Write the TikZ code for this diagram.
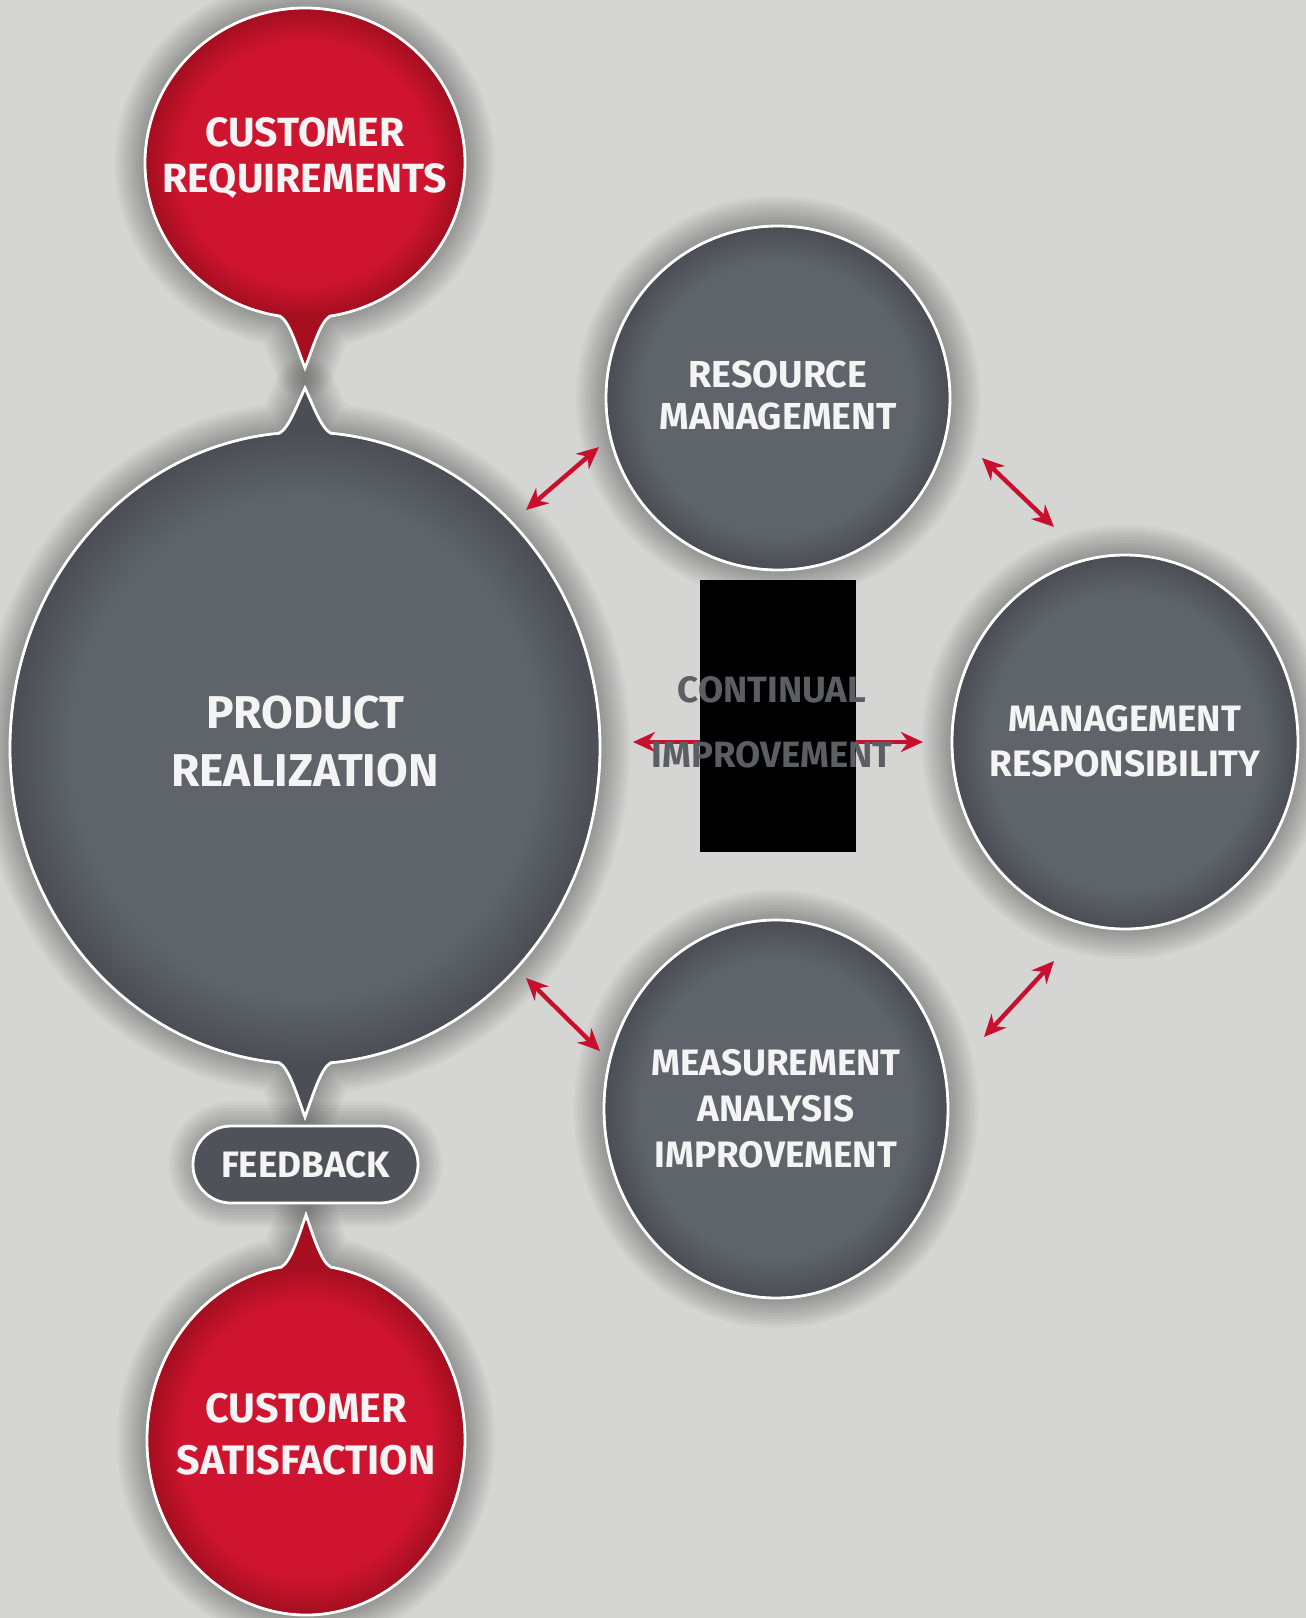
\documentclass[tikz,border=0pt]{standalone}
\usepackage{fontspec}
\setmainfont{Fira Sans}
\usetikzlibrary{arrows.meta}
\definecolor{bg}{HTML}{D5D5D3}
\definecolor{redin}{HTML}{CE142E}
\definecolor{redout}{HTML}{A50F20}
\definecolor{grin}{HTML}{5F646A}
\definecolor{grout}{HTML}{4B4F55}
\definecolor{arr}{HTML}{C8102E}
\definecolor{citext}{HTML}{5B5E63}
\definecolor{wtext}{HTML}{F4F4F4}
\pgfdeclareradialshading{redball}{\pgfpoint{0bp}{0bp}}{color(0bp)=(redin); color(20bp)=(redin); color(25bp)=(redout); color(50bp)=(redout)}
\pgfdeclareradialshading{grayball}{\pgfpoint{0bp}{0bp}}{color(0bp)=(grin); color(20bp)=(grin); color(25bp)=(grout); color(50bp)=(grout)}
\newcommand\halopath[1]{\foreach \w in {3,6,...,30}{\draw[black,opacity=0.03,line width=\w pt,line join=round] #1;}}
\tikzset{
  outline/.style={draw=white, line width=1.4pt},
  lbl/.style={text=wtext, align=center},
  twoway/.style={arr, line width=2.2pt, {Stealth[length=11pt,width=10pt]}-{Stealth[length=11pt,width=10pt]}},
}
\begin{document}
\begin{tikzpicture}[x=0.5pt, y=-0.5pt]
\useasboundingbox (0,0) rectangle (1306,1618);
\fill[bg] (0,0) rectangle (1306,1618);

% paths
\def\crpath{(279.97,316.09) arc[start angle=99, end angle=441, x radius=160, y radius=155]
  .. controls (320,322) and (313,348) .. (305,368) .. controls (297,348) and (290,322) .. (279.97,316.09) -- cycle}
\def\prpath{(279.29,1062.8) arc[start angle=95, end angle=265, x radius=295, y radius=316]
  .. controls (289,428) and (297,405) .. (305,388) .. controls (313,405) and (321,428) .. (330.71,433.2)
  arc[start angle=275, end angle=445, x radius=295, y radius=316]
  .. controls (321,1068) and (313,1095) .. (305,1117) .. controls (297,1095) and (289,1068) .. (279.29,1062.8) -- cycle}
\def\cspath{(330.87,1267.15) arc[start angle=279, end angle=621, x radius=159, y radius=175]
  .. controls (291,1262) and (299,1235) .. (306,1215) .. controls (313,1235) and (321,1262) .. (330.87,1267.15) -- cycle}
\def\rmpath{(778,398) ellipse[x radius=172, y radius=172]}
\def\mrpath{(1125,742) ellipse[x radius=173, y radius=187]}
\def\mapath{(776,1109) ellipse[x radius=172, y radius=189]}

% halos
\halopath{\crpath}
\halopath{\prpath}
\halopath{\cspath}
\halopath{\rmpath}
\halopath{\mrpath}
\halopath{\mapath}
\foreach \w in {3,6,...,24}{\draw[black,opacity=0.03,line width=\w pt,rounded corners=19pt] (193,1126) rectangle (418,1203);}

% bubbles
\path[fill=redout, outline] \crpath;
\shade[shading=redball] (305,163) ellipse[x radius=158, y radius=153];
\path[fill=grout, outline] \prpath;
\shade[shading=grayball] (305,748) ellipse[x radius=293, y radius=314];
\path[fill=redout, outline] \cspath;
\shade[shading=redball] (306,1440) ellipse[x radius=157, y radius=173];
\path[fill=grout, outline] \rmpath;
\shade[shading=grayball] (778,398) ellipse[x radius=170, y radius=170];
\path[fill=grout, outline] \mrpath;
\shade[shading=grayball] (1125,742) ellipse[x radius=171, y radius=185];
\path[fill=grout, outline] \mapath;
\shade[shading=grayball] (776,1109) ellipse[x radius=170, y radius=187];

% labels
\node[lbl, font=\fontsize{20.4}{22.7}\selectfont\bfseries] (cr) at (305,158) {CUSTOMER\\REQUIREMENTS};
\node[lbl, font=\fontsize{23}{29}\selectfont\bfseries] (pr) at (305,742) {PRODUCT\\REALIZATION};
\node[lbl, font=\fontsize{18.8}{21}\selectfont\bfseries] (rm) at (778,395) {RESOURCE\\MANAGEMENT};
\node[lbl, font=\fontsize{18.4}{22.7}\selectfont\bfseries] (mr) at (1125,741) {MANAGEMENT\\RESPONSIBILITY};
\node[lbl, font=\fontsize{18.4}{23}\selectfont\bfseries] (ma) at (776,1109) {MEASUREMENT\\ANALYSIS\\IMPROVEMENT};
\node[lbl, font=\fontsize{20.6}{25.8}\selectfont\bfseries] (cs) at (306,1434) {CUSTOMER\\SATISFACTION};
\node[lbl, draw=white, line width=1.4pt, fill=grout!80!grin, rounded corners=19pt,
      minimum width=112.5pt, minimum height=38.5pt, inner sep=0pt,
      font=\fontsize{18.4}{20}\selectfont\bfseries] (fb) at (305.5,1164.5) {FEEDBACK};

% arrows
\coordinate (a1s) at (526,510);  \coordinate (a1e) at (599,447);
\coordinate (a2s) at (982,458);  \coordinate (a2e) at (1054,527);
\coordinate (a3s) at (526,978);  \coordinate (a3e) at (600,1051);
\coordinate (a4s) at (1054,961); \coordinate (a4e) at (984,1037);
\coordinate (hs) at (633,742);   \coordinate (he) at (923,742);
\draw[twoway] (a1s) -- (a1e);
\draw[twoway] (a2s) -- (a2e);
\draw[twoway] (a3s) -- (a3e);
\draw[twoway] (a4s) -- (a4e);
\draw[twoway] (hs) -- (he);

% redaction box and centre text
\fill[black] (700,580) rectangle (856,852);
\node[text=citext, align=center, font=\fontsize{18.3}{32.5}\selectfont\bfseries] (ci) at (772,722) {CONTINUAL\\IMPROVEMENT};
\end{tikzpicture}
\end{document}
